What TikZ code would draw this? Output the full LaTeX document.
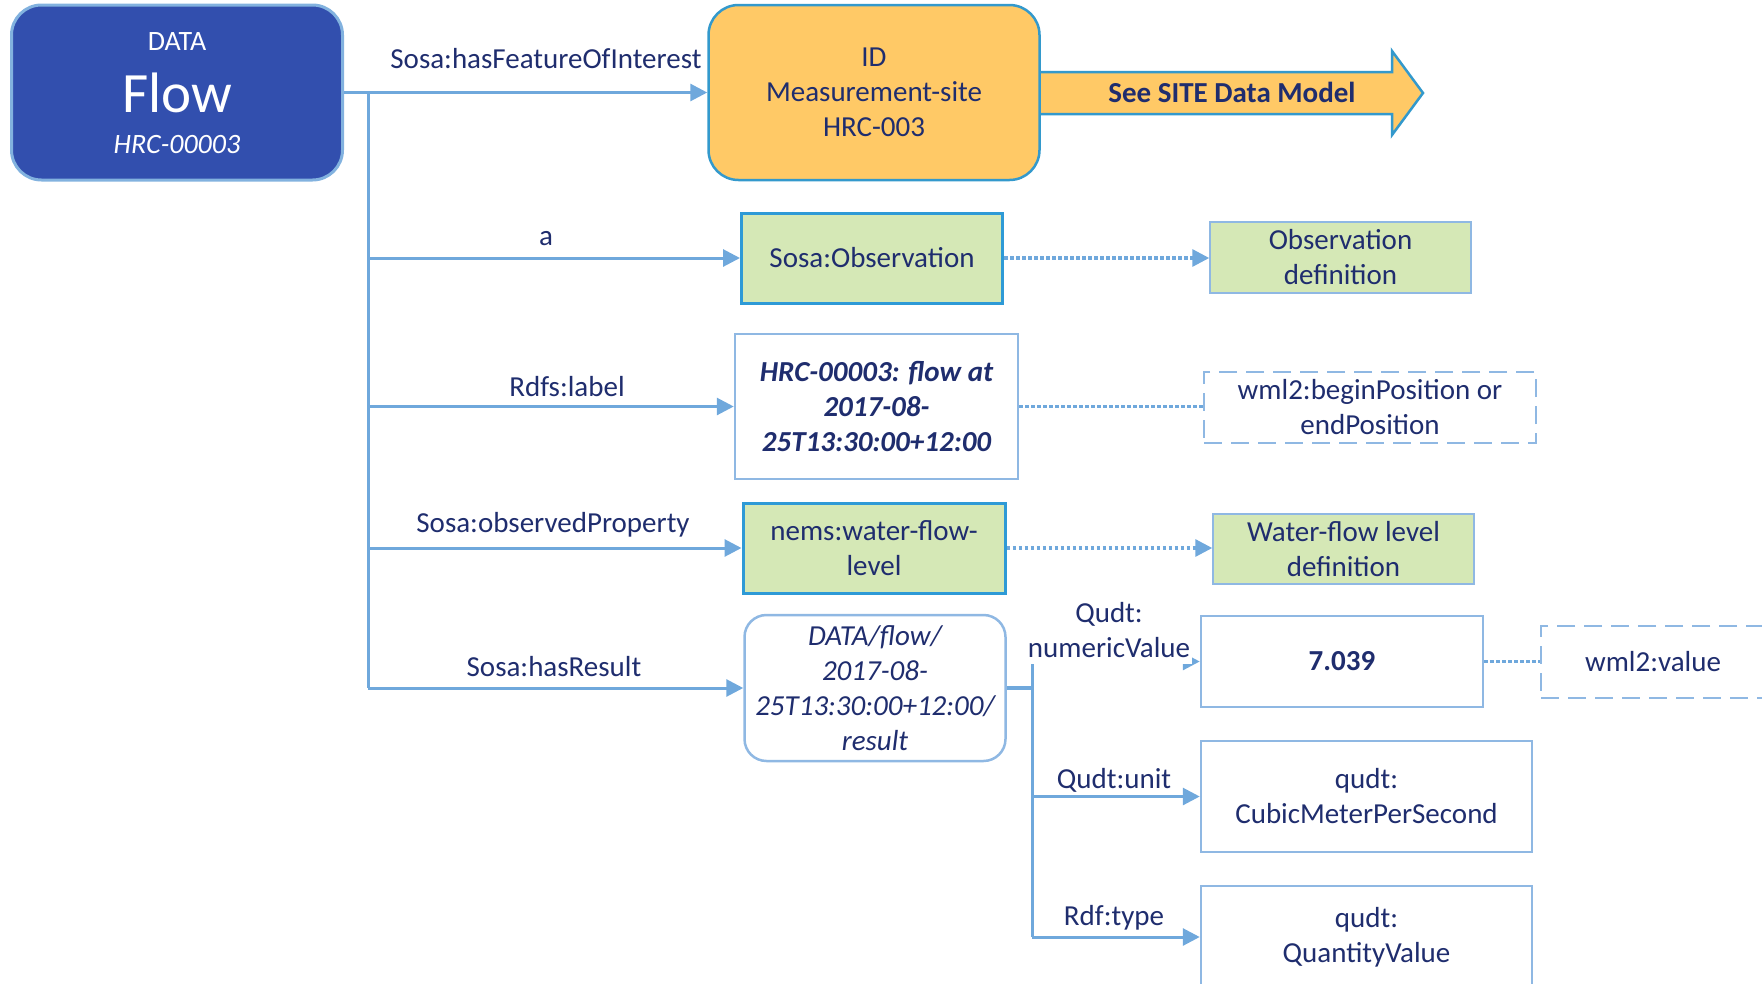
\documentclass[tikz,border=0pt]{standalone}
\usepackage{fontspec}
\setmainfont{Carlito}
\usetikzlibrary{arrows.meta}
\definecolor{navy}{HTML}{1F2D6E}
\definecolor{flowfill}{HTML}{324FAE}
\definecolor{flowedge}{HTML}{82B2DF}
\definecolor{idfill}{HTML}{FFC966}
\definecolor{idedge}{HTML}{3399CC}
\definecolor{lnk}{HTML}{6FA8DC}
\definecolor{grn}{HTML}{D5E8B6}
\definecolor{boxedge}{HTML}{8FB8E3}
\definecolor{strongedge}{HTML}{2E9AD6}
\tikzset{
  body/.style={font=\fontsize{29}{35}\selectfont, text=navy},
  cbox/.style={body, align=center, inner sep=0pt, rectangle},
  whitebox/.style={cbox, draw=boxedge, line width=2.5pt, fill=white},
  greenbox/.style={cbox, draw=strongedge, line width=3pt, fill=grn},
  defbox/.style={cbox, draw=boxedge, line width=1.5pt, fill=grn},
  dashbox/.style={cbox, draw=boxedge, line width=2.5pt, fill=white, dash pattern=on 18pt off 9pt},
  tip/.style={-{Triangle[length=17pt,width=17pt]}},
  trunk/.style={draw=lnk, line width=3pt},
  link/.style={draw=lnk, line width=3pt, tip},
  dotlink/.style={draw=lnk, line width=3.2pt, dash pattern=on 3.5pt off 2.5pt},
  elabel/.style={body, anchor=base, inner sep=0pt},
}
\begin{document}
\begin{tikzpicture}[x=1pt,y=-1pt]
\useasboundingbox (0,0) rectangle (1762,983);

% big arrow towards the site data model
\path[draw=idedge, fill=idfill, line width=2.5pt, line join=miter]
  (1030,72) -- (1392,72) -- (1392,51) -- (1423,93) -- (1392,135) -- (1392,114) -- (1030,114) -- cycle;
\node[body, font={\fontsize{29}{35}\selectfont\bfseries}, anchor=base] (seesite) at (1232,102) {See SITE Data Model};

% main nodes
\node[cbox, fill=flowfill, draw=flowedge, line width=3pt, rounded corners=30pt,
      minimum width=331pt, minimum height=175pt] (flow) at (177,92.5) {};
\node[anchor=base, text=white, font=\fontsize{28}{34}\selectfont] (flowtype) at (177,50) {DATA};
\node[anchor=base, text=white, font=\fontsize{57}{60}\selectfont] (flowname) at (177,112) {Flow};
\node[anchor=base, text=white, font=\fontsize{28}{34}\selectfont\itshape] (flowid) at (177,153) {HRC-00003};

\node[cbox, fill=idfill, draw=idedge, line width=2.5pt, rounded corners=30pt,
      minimum width=331pt, minimum height=175pt] (id) at (874,92.5)
      {ID\\Measurement-site\\HRC-003};

\node[greenbox, minimum width=261pt, minimum height=90pt] (obs) at (872,258) {Sosa:Observation};
\node[defbox, minimum width=261pt, minimum height=71pt] (obsdef) at (1340.5,257.5) {Observation\\definition};

\node[whitebox, minimum width=283pt, minimum height=145pt,
      font={\fontsize{29}{35}\selectfont\bfseries\itshape}] (lbl) at (876.5,406.5)
      {HRC-00003: flow at\\2017-08-\\25T13:30:00+12:00};
\node[dashbox, minimum width=332pt, minimum height=71pt] (wbp) at (1370,407.5) {wml2:beginPosition or\\endPosition};

\node[greenbox, minimum width=262pt, minimum height=90pt] (nems) at (874,548) {nems:water-flow-\\level};
\node[defbox, minimum width=261pt, minimum height=70pt] (wfdef) at (1343.5,549) {Water-flow level\\definition};

\node[whitebox, rounded corners=22pt, minimum width=261pt, minimum height=146pt,
      font={\fontsize{29}{35}\selectfont\itshape}] (res) at (875,688)
      {DATA/flow/\\2017-08-\\25T13:30:00+12:00/\\result};

\node[whitebox, minimum width=282pt, minimum height=91pt,
      font={\fontsize{29}{35}\selectfont\bfseries}] (val) at (1342,661.5) {7.039};
\node[dashbox, minimum width=224pt, minimum height=72pt] (wval) at (1653,662) {wml2:value};
\node[whitebox, minimum width=331pt, minimum height=111pt] (cubic) at (1366.5,796.5) {qudt:\\CubicMeterPerSecond};
\node[whitebox, minimum width=331pt, minimum height=102pt] (qv) at (1366.5,937) {qudt:\\QuantityValue};

% main trunk
\coordinate (t1) at (368,0);
\draw[trunk] (flow.east -| t1) -- (res.west -| t1);
\draw[link] (flow.east) -- (id.west);
\draw[link] (obs.west -| t1) -- (obs.west);
\draw[link] (lbl.west -| t1) -- (lbl.west);
\draw[link] (nems.west -| t1) -- (nems.west);
\draw[link] (res.west -| t1) -- (res.west);

\node[elabel] (lfoi) at (546,68) {Sosa:hasFeatureOfInterest};
\node[elabel] (la) at (546,245) {a};
\node[elabel] (llabel) at (567,396) {Rdfs:label};
\node[elabel] (lprop) at (553,532) {Sosa:observedProperty};
\node[elabel] (lres) at (554,676) {Sosa:hasResult};

% dotted links
\draw[dotlink, tip] (obs.east) -- (obs.east -| obsdef.west);
\draw[dotlink] (lbl.east) -- (lbl.east -| wbp.west);
\draw[dotlink, tip] (nems.east) -- (nems.east -| wfdef.west);
\draw[dotlink] (val.east) -- (val.east -| wval.west);

% result trunk
\coordinate (t2) at (1032,0);
\draw[draw=lnk, line width=4pt] (res.east) -- (res.east -| t2);
\draw[trunk] (val.west -| t2) -- (qv.west -| t2);
\draw[link] (val.west -| t2) -- (val.west);
\draw[link] (cubic.west -| t2) -- (cubic.west);
\draw[link] (qv.west -| t2) -- (qv.west);

\node[body, align=center, fill=white, inner xsep=2pt, inner ysep=6pt, anchor=south] (lnum) at (1109,664) {Qudt:\\numericValue};
\node[body, fill=white, inner xsep=2pt, inner ysep=2pt, anchor=base] (lunit) at (1114,788) {Qudt:unit};
\node[body, fill=white, inner xsep=2pt, inner ysep=2pt, anchor=base] (ltype) at (1114,925) {Rdf:type};
\end{tikzpicture}
\end{document}
